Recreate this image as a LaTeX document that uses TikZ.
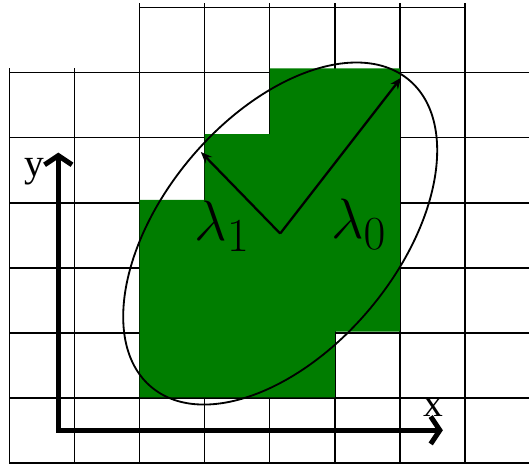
\documentclass[tikz,border=0pt]{standalone}
\usepackage{fontspec}
\setmainfont{Liberation Serif}
\usetikzlibrary{arrows.meta}
\definecolor{figG}{HTML}{007D00}

\begin{document}
\begin{tikzpicture}[x=1cm,y=1.011cm,>={Stealth[length=5pt,width=4pt]}]
\useasboundingbox (-0.146,-0.03) rectangle (7.999,7.04);
\draw[line width=0.6pt] (0,0) grid (7.99,6);
\draw[line width=0.6pt] (2,6) grid (7,7);
\fill[figG] (2,1) -- (5,1) -- (5,2) -- (6,2) -- (6,6) -- (4,6) -- (4,5) -- (3,5) -- (3,4) -- (2,4) -- cycle;
\coordinate (c) at (4.16,3.49);
\coordinate (l0) at (6.02,5.86);
\coordinate (l1) at (2.94,4.73);
\draw[line width=0.8pt,rotate around={50:(c)}] (c) ellipse [x radius=3.08,y radius=1.78];
\draw[->,line width=1pt] (c) -- (l0);
\draw[->,line width=1pt] (c) -- (l1);
\node (lam1) at (3.27,3.6) {\Huge$\lambda_1$};
\node (lam0) at (5.37,3.63) {\Huge$\lambda_0$};
\coordinate (o) at (0.75,0.5);
\coordinate (ytip) at (0.75,4.72);
\coordinate (xtip) at (6.66,0.5);
\draw[{Straight Barb[length=4pt,width=12pt,line width=2.2pt]}-{Straight Barb[length=4pt,width=12pt,line width=2.2pt]},line width=2pt] (ytip) -- (o) -- (xtip);
\node (ylab) at (0.39,4.43) {\LARGE y};
\node (xlab) at (6.52,0.84) {\LARGE x};
\end{tikzpicture}
\end{document}
